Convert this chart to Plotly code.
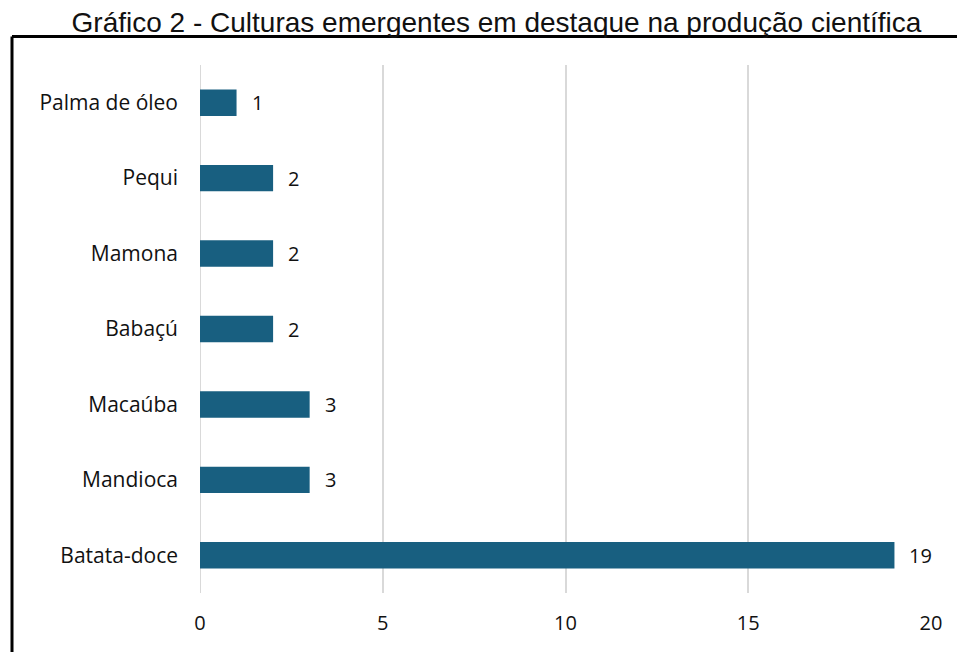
import plotly.graph_objects as go

categories = ["Batata-doce", "Mandioca", "Macaúba", "Babaçú", "Mamona", "Pequi", "Palma de óleo"]
values = [19, 3, 3, 2, 2, 2, 1]
x_ticks = [0, 5, 10, 15, 20]

FONT = "Open Sans, Lato, sans-serif"
W, H = 965, 652
OFF = 8  # page body margin
ml, mr, mt, mb = 192, 42, 57, 67
pw = W - ml - mr
ph = H - mt - mb

fig = go.Figure(go.Bar(
    y=categories, x=values, orientation="h",
    marker=dict(color="#185f80", line=dict(width=0)),
))

for c, v in zip(categories, values):
    fig.add_annotation(x=v, y=c, xref="x", yref="y", text=str(v), showarrow=False,
                       xanchor="left", yanchor="middle", xshift=13,
                       font=dict(family=FONT, size=20, color="#111111"))

fig.update_layout(
    width=W, height=H,
    margin=dict(l=ml, r=mr, t=mt, b=mb),
    paper_bgcolor="white", plot_bgcolor="white",
    bargap=0.65,
    showlegend=False,
    title=dict(text="Gráfico 2 - Culturas emergentes em destaque na produção científica",
               x=(496.5 - OFF) / W, xanchor="center", y=1 - (22 - OFF) / H, yanchor="middle",
               font=dict(family="Liberation Sans, Arial, sans-serif", size=28, color="#111111")),
    xaxis=dict(range=[0, 20], tickvals=x_ticks, showgrid=True, gridcolor="#d9d9d9", gridwidth=2,
               zeroline=False, showline=False, ticks="", ticklabelstandoff=16,
               tickfont=dict(family=FONT, size=20, color="#111111")),
    yaxis=dict(showgrid=False, zeroline=False, showline=False, ticks="", ticklabelstandoff=21,
               tickfont=dict(family=FONT, size=21, color="#111111")),
)

fig.add_shape(type="line", xref="x", yref="paper", x0=0, x1=0, y0=0, y1=1,
              line=dict(color="#d9d9d9", width=2), layer="below")

lx = (12 - OFF - ml) / pw
ty = 1 + (mt - (36.5 - OFF)) / ph
fig.add_shape(type="line", xref="paper", yref="paper", x0=lx, x1=(W - ml) / pw, y0=ty, y1=ty,
              line=dict(color="black", width=3))
fig.add_shape(type="line", xref="paper", yref="paper", x0=lx, x1=lx, y0=ty, y1=-mb / ph - 0.01,
              line=dict(color="black", width=3))

fig.write_html("out.html")
